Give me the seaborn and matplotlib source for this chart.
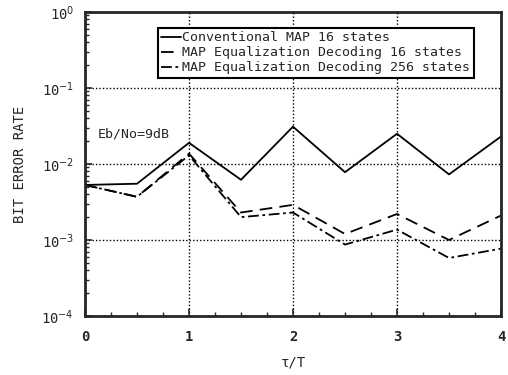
import numpy as np
import pandas as pd
import matplotlib
matplotlib.use("Agg")
import matplotlib.pyplot as plt
import seaborn as sns

tau = [0, 0.5, 1, 1.5, 2, 2.5, 3, 3.5, 4]
conv16 = [5.3e-3, 5.5e-3, 1.9e-2, 6.2e-3, 3.1e-2, 7.8e-3, 2.5e-2, 7.3e-3, 2.3e-2]
eq16 = [5.3e-3, 3.7e-3, 1.37e-2, 2.3e-3, 2.9e-3, 1.2e-3, 2.2e-3, 1.0e-3, 2.1e-3]
eq256 = [5.3e-3, 3.7e-3, 1.3e-2, 2.0e-3, 2.3e-3, 8.7e-4, 1.37e-3, 5.8e-4, 7.7e-4]
labels = ["Conventional MAP 16 states",
          "MAP Equalization Decoding 16 states",
          "MAP Equalization Decoding 256 states"]

sns.set_style("ticks")
plt.rcParams['font.family'] = ['DejaVu Sans Mono', 'DejaVu Sans']

df = pd.concat([
    pd.DataFrame({"tau": tau, "ber": v, "series": lab})
    for v, lab in zip([conv16, eq16, eq256], labels)
])

fig = plt.figure(figsize=(5.08, 3.75), dpi=100)
ax = fig.add_axes([85/508, 1 - 316/375, 416/508, 304/375])

styles = {labels[0]: None, labels[1]: (7, 4), labels[2]: (6, 2, 1.5, 2)}
for lab in labels:
    sub = df[df.series == lab]
    sns.lineplot(data=sub, x="tau", y="ber", ax=ax, color="black", lw=1.3,
                 label=lab, legend=False)
    line = ax.lines[-1]
    if styles[lab] is not None:
        line.set_dashes(styles[lab])

ax.set_yscale("log")
ax.set_xlim(0, 4)
ax.set_ylim(1e-4, 1)
ax.set_xticks([0, 1, 2, 3, 4])
ax.set_xticklabels(["0", "1", "2", "3", "4"], fontsize=10, fontweight="bold")
ax.set_xticks(np.arange(0, 4.01, 0.25), minor=True)
ax.set_yticks([1e-4, 1e-3, 1e-2, 1e-1, 1])
ax.set_yticklabels([r"10$^{-4}$", r"10$^{-3}$", r"10$^{-2}$", r"10$^{-1}$", r"10$^{0}$"], fontsize=10)
ax.tick_params(which="both", direction="in")
ax.tick_params(axis="x", which="major", pad=10)
ax.tick_params(axis="y", which="major", pad=8)
ax.tick_params(which="major", length=5, width=1.2)
ax.tick_params(which="minor", length=3, width=1)
for s in ax.spines.values():
    s.set_linewidth(2)
ax.grid(True, which="major", color="black", linestyle=(0, (1, 1.5)), linewidth=1)

ax.set_xlabel("τ/T", fontsize=10, labelpad=8)
ax.set_ylabel("BIT ERROR RATE", fontsize=10, labelpad=10)
ax.text(0.12, 1.4e-2 * 1.75, "Eb/No=9dB", fontsize=9.5, va="center")

leg = ax.legend(loc="upper left", bbox_to_anchor=(73/416, 1 - 16/304), fontsize=9.5,
                frameon=True, fancybox=False, framealpha=1, edgecolor="black",
                handlelength=1.5, handletextpad=0.1, borderpad=0.25, labelspacing=0.15,
                borderaxespad=0)
leg.get_frame().set_linewidth(1.5)

fig.savefig("out.png", dpi=100)
